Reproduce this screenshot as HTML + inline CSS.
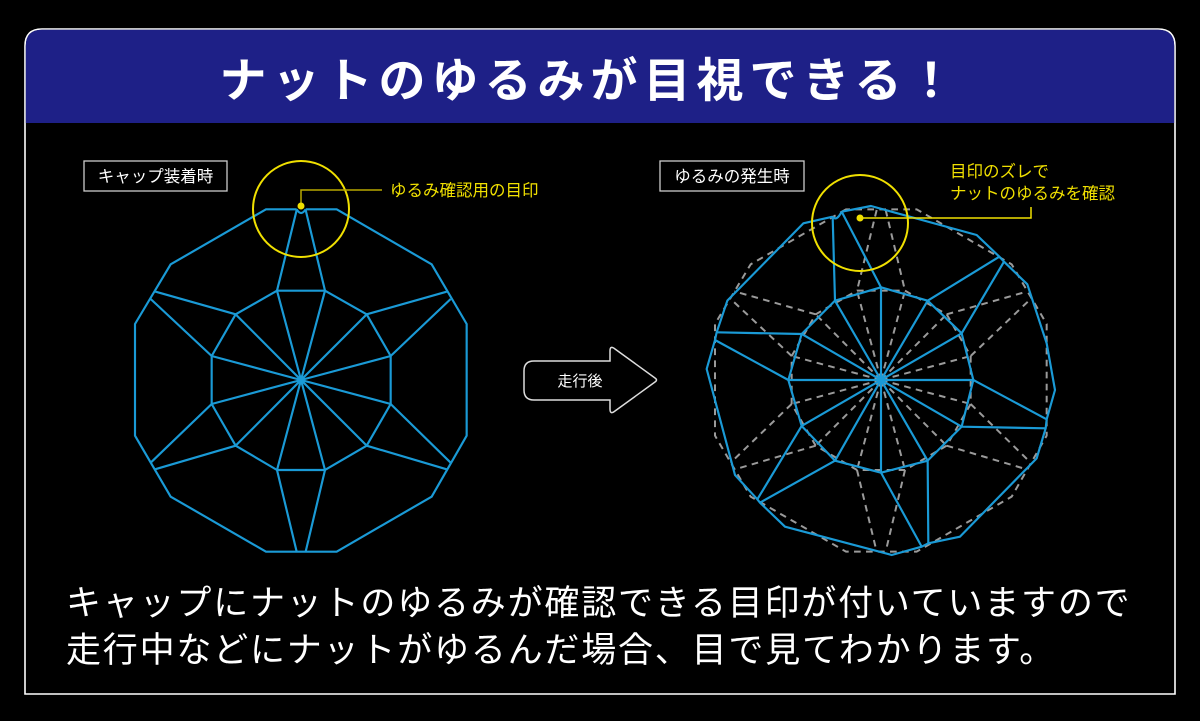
<!DOCTYPE html>
<html><head><meta charset="utf-8"><style>
html,body{margin:0;padding:0;background:#000;}
body{width:1200px;height:721px;overflow:hidden;position:relative;font-family:"Liberation Sans","Noto Sans CJK JP",sans-serif;}
svg{position:absolute;left:0;top:0;}
.t{font-family:"Liberation Sans","Noto Sans CJK JP",sans-serif;}
</style></head><body>
<svg width="1200" height="721" viewBox="0 0 1200 721" xmlns="http://www.w3.org/2000/svg">
<path d="M25,694 L25,46 Q25,29 42,29 L1158,29 Q1175,29 1175,46 L1175,694 Z" fill="#000" stroke="#fff" stroke-width="1.6"/>
<path d="M25.8,123 L25.8,46 Q25.8,29.8 42,29.8 L1158,29.8 Q1174.2,29.8 1174.2,46 L1174.2,123 Z" fill="#1e2087"/>
<text x="590" y="97" text-anchor="middle" class="t" font-size="47" font-weight="bold" fill="#fff" letter-spacing="6">ナットのゆるみが目視できる！</text>

<rect x="84" y="161" width="143" height="30" fill="none" stroke="#ccc" stroke-width="1.3"/>
<text x="155.5" y="182" text-anchor="middle" class="t" font-size="16.5" fill="#fff">キャップ装着時</text>
<rect x="660" y="161" width="144" height="30" fill="none" stroke="#ccc" stroke-width="1.3"/>
<text x="732" y="182" text-anchor="middle" class="t" font-size="16.5" fill="#fff">ゆるみの発生時</text>

<g transform="translate(130,150) scale(0.33333)" fill="none" stroke="#1a9ad6" stroke-width="6.5" stroke-linejoin="round">
 <path d="M500,178 L408,178 L122,343 L15,522 L15,857 L122,1040 L408,1205 L620,1205 L905,1040 L1010,857 L1010,522 L905,343 L620,178 L527,178 M500,178 Q513,200 527,178"/>
 <polygon points="441,422 585,422 710,493 782,618 782,762 710,887 585,960 441,960 317,887 245,762 245,618 317,493"/>
 <path d="M513,690 L441,422 M513,690 L585,422 M513,690 L710,493 M513,690 L782,618 M513,690 L782,762 M513,690 L710,887 M513,690 L585,960 M513,690 L441,960 M513,690 L317,887 M513,690 L245,762 M513,690 L245,618 M513,690 L317,493
 M500,180 L441,422 M527,180 L585,422 M710,493 L950,425 M782,618 L962,447 M782,762 L962,938 M710,887 L950,958 M585,960 L527,1205 M441,960 L500,1205 M317,887 L75,958 M245,762 L62,938 M245,618 L62,447 M317,493 L73,424"/>
 <circle cx="513" cy="690" r="9" fill="#1a9ad6" stroke="none"/>
</g>
<circle cx="301" cy="209" r="48" fill="none" stroke="#f0e000" stroke-width="2"/>
<path d="M301,206 L301,190 L382,190" fill="none" stroke="#b8a800" stroke-width="1.5"/>
<circle cx="301" cy="206" r="3.5" fill="#f0e000"/>
<text x="390" y="196" class="t" font-size="16.5" fill="#f0e000">ゆるみ確認用の目印</text>

<path d="M610,361 L534,361 Q524,361 524,371 L524,390 Q524,400 534,400 L610,400 L610,409 Q610,415 615,411 L655,382 Q658,380 655,378 L615,349 Q610,345 610,351 Z" fill="#000" stroke="#ddd" stroke-width="1.5"/>
<text x="580" y="386" text-anchor="middle" class="t" font-size="15" fill="#fff">走行後</text>

<g transform="translate(710,150) scale(0.33333)" fill="none" stroke="#9a9a9a" stroke-width="6" stroke-dasharray="20,16">
 <path d="M408,178 L122,343 L15,522 L15,857 L122,1040 L408,1205 L620,1205 L905,1040 L1010,857 L1010,522 L905,343 L620,178 Z"/>
 <polygon points="441,422 585,422 710,493 782,618 782,762 710,887 585,960 441,960 317,887 245,762 245,618 317,493"/>
 <path d="M513,690 L441,422 M513,690 L585,422 M513,690 L710,493 M513,690 L782,618 M513,690 L782,762 M513,690 L710,887 M513,690 L585,960 M513,690 L441,960 M513,690 L317,887 M513,690 L245,762 M513,690 L245,618 M513,690 L317,493
 M500,180 L441,422 M527,180 L585,422 M710,493 L950,425 M782,618 L962,447 M782,762 L962,938 M710,887 L950,958 M585,960 L527,1205 M441,960 L500,1205 M317,887 L75,958 M245,762 L62,938 M245,618 L62,447 M317,493 L73,424"/>
</g>
<g transform="translate(650,150) scale(0.33333)" fill="none" stroke="#1a9ad6" stroke-width="6.5" stroke-linejoin="round">
 <path d="M575,185 L663,168 L980,255 L1048,320 L1062,335 L1132,403 L1190,580 L1215,720 L1190,808 L1187,835 L1160,925 L930,1160 L835,1180 L815,1190 L725,1215 L405,1130 L330,1058 L322,1048 L255,975 L170,657 L195,570 L200,547 L232,452 L460,220 L548,200 M548,200 Q560,215 575,185"/>
 <polygon points="693,412 833,452 935,550 970,690 935,830 833,932 693,968 555,932 455,828 415,690 455,552 555,452"/>
 <path d="M693,690 L693,412 M693,690 L833,452 M693,690 L935,550 M693,690 L970,690 M693,690 L935,830 M693,690 L833,932 M693,690 L693,968 M693,690 L555,932 M693,690 L455,828 M693,690 L415,690 M693,690 L455,552 M693,690 L555,452
 M548,200 L555,452 M575,185 L693,412 M833,452 L1048,320 M935,550 L1062,335 M970,690 L1190,808 M935,830 L1187,835 M833,932 L835,1180 M693,968 L815,1190 M555,932 L330,1058 M455,828 L322,1048 M415,690 L195,570 M455,552 L200,547"/>
 <circle cx="693" cy="690" r="10" fill="#1a9ad6" stroke="none"/>
</g>
<circle cx="860" cy="223" r="48" fill="none" stroke="#f0e000" stroke-width="2"/>
<path d="M860,218 L1031,218 L1031,207" fill="none" stroke="#f0e000" stroke-width="1.5"/>
<circle cx="860" cy="218" r="3.5" fill="#f0e000"/>
<text x="950" y="177" class="t" font-size="16.5" fill="#f0e000">目印のズレで</text>
<text x="950" y="199" class="t" font-size="16.5" fill="#f0e000">ナットのゆるみを確認</text>

<text x="66" y="615" class="t" font-size="35" fill="#fff" letter-spacing="1.8">キャップにナットのゆるみが確認できる目印が付いていますので</text>
<text x="66" y="662" class="t" font-size="35" fill="#fff" letter-spacing="1.8">走行中などにナットがゆるんだ場合、目で見てわかります。</text>
</svg>
</body></html>
